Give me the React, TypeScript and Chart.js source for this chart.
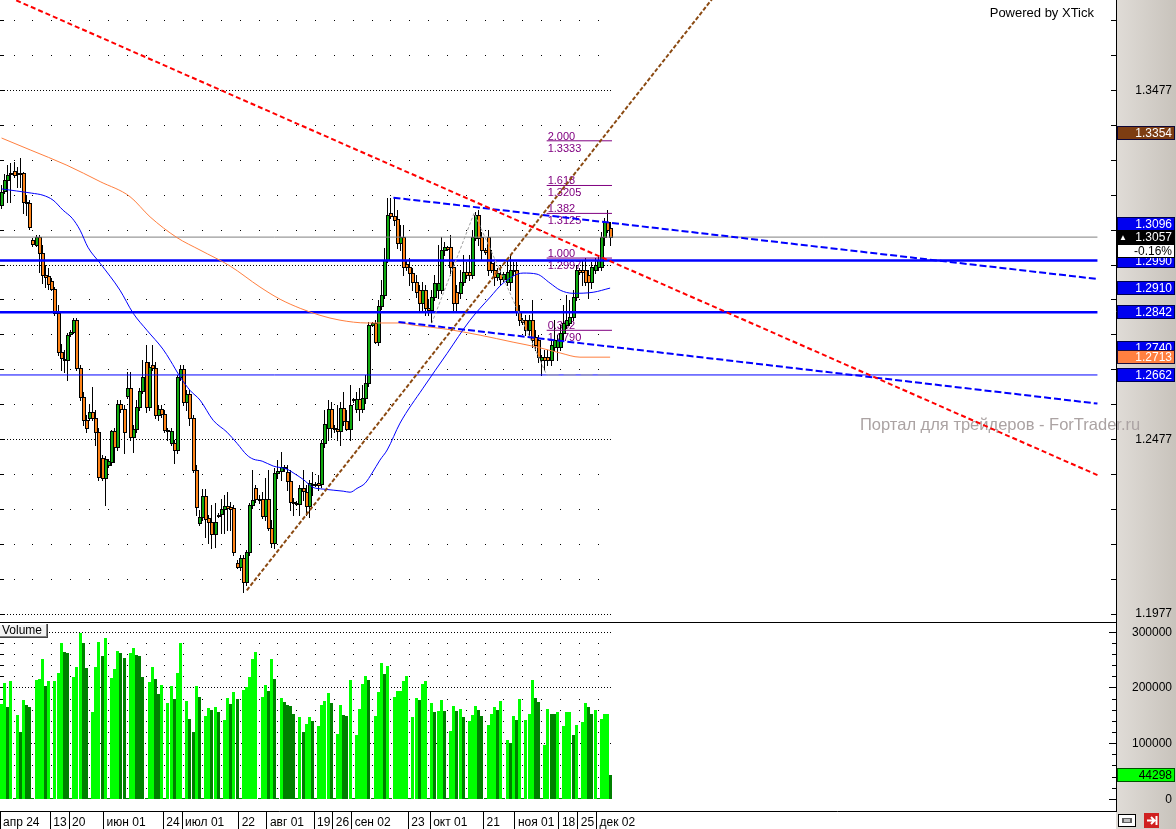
import React, { useEffect, useRef } from 'react';
import { Chart, registerables } from 'chart.js';

Chart.register(...registerables);

const FONT = "'Liberation Sans', Arial, sans-serif";

// ---------- DATA ----------
// daily candles [open, high, low, close], 24 Apr .. 6 Dec (index 0 = апр 24)
const CANDLES: number[][] = [
  [1.3149,1.3206,1.3140,1.3186],[1.3189,1.3238,1.3183,1.3220],[1.3220,1.3264,1.3157,1.3235],[1.3238,1.3269,1.3157,1.3237],
  [1.3246,1.3272,1.3229,1.3235],[1.3238,1.3258,1.3200,1.3237],[1.3238,1.3284,1.3200,1.3240],[1.3240,1.3243,1.3126,1.3157],
  [1.3157,1.3178,1.3120,1.3155],[1.3155,1.3163,1.3080,1.3086],[1.3048,1.3054,1.3031,1.3037],[1.3034,1.3063,1.3031,1.3057],
  [1.3057,1.3063,1.2957,1.3011],[1.3011,1.3034,1.2925,1.2948],[1.2948,1.2977,1.2914,1.2942],[1.2945,1.2968,1.2908,1.2922],
  [1.2931,1.2939,1.2905,1.2908],[1.2908,1.2914,1.2833,1.2839],[1.2839,1.2862,1.2719,1.2727],[1.2727,1.2750,1.2676,1.2710],
  [1.2707,1.2733,1.2670,1.2706],[1.2704,1.2782,1.2647,1.2776],[1.2779,1.2790,1.2773,1.2785],[1.2785,1.2825,1.2782,1.2819],
  [1.2819,1.2825,1.2676,1.2681],[1.2681,1.2690,1.2590,1.2598],[1.2598,1.2613,1.2518,1.2532],[1.2532,1.2547,1.2498,1.2509],
  [1.2538,1.2575,1.2532,1.2555],[1.2555,1.2627,1.2532,1.2538],[1.2538,1.2561,1.2461,1.2498],[1.2498,1.2509,1.2360,1.2369],
  [1.2423,1.2432,1.2360,1.2366],[1.2366,1.2429,1.2289,1.2421],[1.2403,1.2421,1.2398,1.2415],[1.2412,1.2504,1.2403,1.2501],
  [1.2501,1.2509,1.2412,1.2455],[1.2455,1.2590,1.2446,1.2578],[1.2578,1.2590,1.2555,1.2564],[1.2564,1.2575,1.2438,1.2498],
  [1.2601,1.2670,1.2595,1.2624],[1.2624,1.2670,1.2475,1.2484],[1.2484,1.2518,1.2441,1.2507],[1.2507,1.2590,1.2498,1.2570],
  [1.2570,1.2624,1.2561,1.2616],[1.2616,1.2704,1.2610,1.2656],[1.2699,1.2747,1.2555,1.2570],[1.2570,1.2699,1.2561,1.2684],
  [1.2690,1.2747,1.2676,1.2681],[1.2681,1.2699,1.2538,1.2547],[1.2547,1.2575,1.2532,1.2564],[1.2564,1.2575,1.2541,1.2550],
  [1.2550,1.2561,1.2498,1.2504],[1.2504,1.2509,1.2475,1.2501],[1.2466,1.2509,1.2461,1.2501],[1.2466,1.2475,1.2409,1.2446],
  [1.2446,1.2661,1.2438,1.2656],[1.2656,1.2690,1.2647,1.2679],[1.2679,1.2690,1.2575,1.2584],[1.2584,1.2618,1.2561,1.2607],
  [1.2607,1.2618,1.2518,1.2538],[1.2538,1.2547,1.2383,1.2389],[1.2389,1.2403,1.2260,1.2283],[1.2237,1.2274,1.2231,1.2254],
  [1.2254,1.2335,1.2246,1.2315],[1.2315,1.2335,1.2197,1.2249],[1.2251,1.2260,1.2180,1.2240],[1.2240,1.2289,1.2165,1.2206],
  [1.2206,1.2294,1.2168,1.2240],[1.2260,1.2266,1.2254,1.2259],[1.2263,1.2306,1.2208,1.2277],[1.2277,1.2317,1.2208,1.2286],
  [1.2286,1.2326,1.2217,1.2280],[1.2283,1.2297,1.2217,1.2277],[1.2280,1.2289,1.2145,1.2154],[1.2122,1.2131,1.2108,1.2111],
  [1.2111,1.2145,1.2102,1.2137],[1.2137,1.2145,1.2039,1.2068],[1.2068,1.2160,1.2059,1.2154],[1.2154,1.2294,1.2145,1.2289],
  [1.2289,1.2389,1.2280,1.2303],[1.2337,1.2346,1.2297,1.2306],[1.2306,1.2317,1.2294,1.2303],[1.2306,1.2326,1.2251,1.2257],
  [1.2257,1.2366,1.2246,1.2306],[1.2306,1.2389,1.2217,1.2223],[1.2223,1.2246,1.2168,1.2180],[1.2180,1.2395,1.2165,1.2380],
  [1.2380,1.2418,1.2366,1.2386],[1.2386,1.2441,1.2360,1.2398],[1.2395,1.2403,1.2386,1.2394],[1.2383,1.2403,1.2332,1.2357],
  [1.2357,1.2389,1.2274,1.2297],[1.2297,1.2309,1.2260,1.2294],[1.2294,1.2300,1.2289,1.2293],[1.2292,1.2346,1.2260,1.2337],
  [1.2337,1.2389,1.2303,1.2329],[1.2326,1.2346,1.2260,1.2286],[1.2286,1.2360,1.2254,1.2352],[1.2349,1.2383,1.2317,1.2348],
  [1.2349,1.2355,1.2343,1.2348],[1.2352,1.2375,1.2332,1.2346],[1.2349,1.2475,1.2340,1.2466],[1.2466,1.2561,1.2455,1.2521],
  [1.2509,1.2590,1.2475,1.2564],[1.2564,1.2584,1.2484,1.2509],[1.2509,1.2518,1.2498,1.2506],[1.2506,1.2575,1.2475,1.2501],
  [1.2501,1.2584,1.2461,1.2567],[1.2567,1.2613,1.2518,1.2530],[1.2530,1.2561,1.2504,1.2506],[1.2506,1.2633,1.2475,1.2575],
  [1.2590,1.2595,1.2584,1.2589],[1.2564,1.2613,1.2555,1.2593],[1.2593,1.2624,1.2532,1.2564],[1.2564,1.2633,1.2555,1.2595],
  [1.2595,1.2661,1.2581,1.2638],[1.2638,1.2813,1.2630,1.2805],[1.2805,1.2813,1.2802,1.2810],[1.2810,1.2819,1.2753,1.2756],
  [1.2756,1.2876,1.2747,1.2859],[1.2859,1.2934,1.2851,1.2891],[1.2891,1.3026,1.2882,1.2991],[1.2991,1.3169,1.2985,1.3120],
  [1.3126,1.3169,1.3112,1.3117],[1.3117,1.3169,1.3091,1.3106],[1.3109,1.3134,1.3026,1.3040],[1.3040,1.3091,1.3020,1.3057],
  [1.3057,1.3091,1.2948,1.2971],[1.2980,1.2991,1.2962,1.2971],[1.2971,1.2997,1.2919,1.2954],[1.2954,1.2968,1.2905,1.2928],
  [1.2928,1.2948,1.2885,1.2899],[1.2905,1.2919,1.2848,1.2868],[1.2868,1.2928,1.2842,1.2905],[1.2905,1.2919,1.2833,1.2853],
  [1.2853,1.2876,1.2833,1.2848],[1.2848,1.2905,1.2813,1.2885],[1.2885,1.2948,1.2876,1.2925],[1.2905,1.3034,1.2882,1.2925],
  [1.2905,1.3057,1.2896,1.3020],[1.3020,1.3043,1.3005,1.3028],[1.3028,1.3031,1.3020,1.3023],[1.3028,1.3063,1.2948,1.2971],
  [1.2971,1.2985,1.2848,1.2868],[1.2899,1.2919,1.2848,1.2868],[1.2896,1.2962,1.2882,1.2928],[1.2928,1.3005,1.2919,1.2957],
  [1.2957,1.2985,1.2939,1.2948],[1.2957,1.3005,1.2934,1.2948],[1.2948,1.3077,1.2939,1.3057],[1.3054,1.3129,1.3048,1.3120],
  [1.3120,1.3134,1.3034,1.3054],[1.3057,1.3071,1.2991,1.3020],[1.3020,1.3026,1.3008,1.3014],[1.3057,1.3077,1.2948,1.2962],
  [1.2983,1.3020,1.2957,1.2962],[1.2962,1.2985,1.2919,1.2942],[1.2942,1.2968,1.2934,1.2954],[1.2951,1.2977,1.2919,1.2937],
  [1.2937,1.2957,1.2931,1.2951],[1.2928,1.2991,1.2919,1.2957],[1.2928,1.3005,1.2905,1.2962],[1.2960,1.2985,1.2948,1.2962],
  [1.2962,1.2985,1.2833,1.2842],[1.2842,1.2862,1.2805,1.2819],[1.2819,1.2825,1.2808,1.2813],[1.2819,1.2833,1.2776,1.2790],
  [1.2790,1.2833,1.2776,1.2819],[1.2819,1.2876,1.2742,1.2762],[1.2770,1.2790,1.2733,1.2747],[1.2762,1.2776,1.2699,1.2713],
  [1.2704,1.2719,1.2662,1.2713],[1.2713,1.2733,1.2676,1.2704],[1.2713,1.2733,1.2690,1.2704],[1.2704,1.2762,1.2690,1.2747],
  [1.2742,1.2819,1.2733,1.2762],[1.2742,1.2776,1.2704,1.2762],[1.2742,1.2805,1.2733,1.2782],[1.2782,1.2862,1.2762,1.2810],
  [1.2805,1.2891,1.2796,1.2819],[1.2810,1.2876,1.2805,1.2828],[1.2828,1.2905,1.2819,1.2885],[1.2885,1.2977,1.2876,1.2962],
  [1.2962,1.2968,1.2951,1.2957],[1.2962,1.2991,1.2919,1.2957],[1.2962,1.2997,1.2919,1.2928],[1.2948,1.2962,1.2882,1.2928],
  [1.2928,1.2985,1.2911,1.2971],[1.2962,1.2997,1.2954,1.2977],[1.2971,1.3005,1.2962,1.2991],[1.2971,1.3071,1.2962,1.3057],
  [1.3057,1.3112,1.3034,1.3100],[1.3100,1.3134,1.3071,1.3077],[1.3083,1.3100,1.3034,1.3057],
];

const VOLUMES: number[] = [
  172000, 209000, 165000, 212000,
  3000, 151000, 121000, 178000, 169000, 165000,
  3000, 214000, 217000, 252000, 203000, 212000,
  3000, 212000, 227000, 281000, 264000, 263000,
  3000, 220000, 238000, 299000, 281000, 236000,
  3000, 157000, 238000, 283000, 258000, 290000,
  3000, 218000, 234000, 266000, 263000, 254000,
  3000, 262000, 272000, 259000, 258000, 220000,
  3000, 211000, 238000, 217000, 190000, 205000,
  3000, 173000, 203000, 180000, 226000, 281000,
  3000, 176000, 145000, 121000, 203000, 184000,
  3000, 150000, 164000, 160000, 165000, 157000,
  3000, 142000, 182000, 171000, 193000, 180000,
  3000, 196000, 202000, 220000, 252000, 264000,
  3000, 184000, 205000, 194000, 252000, 217000,
  3000, 182000, 175000, 169000, 168000, 153000,
  3000, 147000, 121000, 135000, 147000, 140000,
  3000, 132000, 169000, 176000, 191000, 173000,
  3000, 117000, 169000, 151000, 150000, 214000,
  3000, 115000, 162000, 207000, 222000, 214000,
  3000, 150000, 193000, 245000, 225000, 239000,
  3000, 184000, 195000, 195000, 212000, 222000,
  3000, 147000, 182000, 178000, 207000, 212000,
  3000, 173000, 157000, 159000, 178000, 159000,
  3000, 123000, 168000, 159000, 162000, 148000,
  3000, 141000, 151000, 168000, 160000, 150000,
  3000, 133000, 154000, 165000, 160000, 176000,
  3000, 106000, 102000, 150000, 142000, 181000,
  3000, 142000, 153000, 214000, 182000, 175000,
  3000, 97000, 162000, 154000, 153000, 156000,
  3000, 132000, 157000, 157000, 115000, 133000,
  3000, 139000, 173000, 165000, 153000, 160000,
  3000, 144000, 153000, 154000, 44298,
];

const DATE_TICK_INDEX = [0, 16, 22, 33, 52, 58, 76, 85, 100, 106, 112, 130, 137, 154, 164, 178, 184, 190];
const DATE_TICK_LABELS = ['апр 24', '13', '20', 'июн 01', '24', 'июл 01', '22', 'авг 01', '19', '26', 'сен 02', '23', 'окт 01', '21', 'ноя 01', '18', '25', 'дек 02'];

const PRICE_TICKS = [1.1977, 1.2077, 1.2177, 1.2277, 1.2377, 1.2477, 1.2577, 1.2677, 1.2777, 1.2877, 1.2977, 1.3077, 1.3177, 1.3277, 1.3377, 1.3477, 1.3577, 1.3677];
const PRICE_LABELED = [1.1977, 1.2477, 1.2977, 1.3477];
const VOLUME_TICKS = [0, 20000, 40000, 60000, 80000, 100000, 120000, 140000, 160000, 180000, 200000, 220000, 240000, 260000, 280000, 300000];
const VOLUME_LABELED = [0, 100000, 200000, 300000];

// moving averages: [bar index, value]
const MA_BLUE: number[][] = [
  [0,1.3195],[9.6,1.3183],[13.2,1.3177],[16.4,1.3163],[19.6,1.3134],[22.5,1.3111],[25,1.3077],[27.5,1.3028],
  [31.4,1.2982],[37.7,1.2905],[41.9,1.2839],[46.3,1.2790],[51.4,1.2736],[53.7,1.2704],[56.9,1.2656],[60,1.2618],
  [63.2,1.2590],[67.4,1.2532],[71.8,1.2498],[75,1.2466],[78.2,1.2432],[80.1,1.2421],[83,1.2415],[86.5,1.2401],
  [90.9,1.2392],[93.5,1.2378],[96,1.2363],[99.2,1.2340],[102.4,1.2335],[108.8,1.2329],[111,1.2326],[113.2,1.2337],
  [115.8,1.2352],[118,1.2381],[120.5,1.2418],[122.8,1.2447],[126.9,1.2524],[134.2,1.2624],[141.9,1.2724],[149.2,1.2819],
  [155.6,1.2885],[159.7,1.2925],[166.1,1.2954],[170.5,1.2951],[174.7,1.2925],[177.9,1.2905],[182,1.2896],[188.4,1.2899],[193.8,1.2911],
];
const MA_ORANGE: number[][] = [
  [0,1.3341],[9.1,1.3307],[20.8,1.3263],[31.4,1.3216],[40.9,1.3173],[47.3,1.3115],[55.8,1.3056],[63.2,1.3020],
  [72.8,1.2974],[82.3,1.2914],[88.7,1.2879],[95.1,1.2853],[101.4,1.2833],[107.8,1.2819],[116.4,1.2811],[126.9,1.2811],
  [131.1,1.2805],[141.9,1.2793],[152.4,1.2776],[162.9,1.2756],[170.5,1.2742],[177.9,1.2725],[184.2,1.2713],[193.8,1.2713],
];

// drawn objects: [bar index, price]
const RED_TREND = [[0, 1.3754], [349, 1.2375]];
const BROWN_TREND = [[78.1, 1.2045], [240, 1.3896]];
const UPPER_CHANNEL = [[124.8, 1.3170], [349, 1.2937]];
const LOWER_CHANNEL = [[126.4, 1.2814], [349, 1.2580]];
const ZIGZAG = [[137, 1.2810], [150.5, 1.3126], [173.6, 1.2662]];
const LEVELS_THICK = [1.2990, 1.2842];
const LEVELS_THIN = [1.2662];
const LAST_PRICE = 1.3057;
const LAST_CHANGE = '-0.16%';
const LAST_VOLUME = 44298;

const FIB_RATIOS = ['2.000', '1.618', '1.382', '1.000', '0.382'];
const FIB_PRICES = [1.3333, 1.3205, 1.3125, 1.2997, 1.2790];
const FIB_BASE = 1.2662;
const FIB_SPAN = [173.6, 194.4];

const AXIS_TAG_VALUES = [1.3354, 1.3096, 1.2990, 1.2910, 1.2842, 1.2740, 1.2713, 1.2662];
const AXIS_TAG_COLORS = ['#7d3d12', '#0000f0', '#0000f0', '#0000f0', '#0000f0', '#0000f0', '#ff8040', '#0000f0'];

const WATERMARK = 'Портал для трейдеров - ForTrader.ru';

// ---------- LAYOUT / STYLE ----------
const X_MIN = -0.5;
const X_MAX = 354.91;
const LINES_END = 349;
const LAST_INDEX = CANDLES.length - 1;
const FIRST_WEEK = 4;
const UP = '#10aa10';
const DOWN = '#ff8418';
const VOL_UP = '#00ff00';
const VOL_DOWN = '#008000';

const pts = (arr: number[][]) => arr.map(([x, y]) => ({ x, y }));
const hline = (v: number) => [{ x: X_MIN, y: v }, { x: LINES_END, y: v }];
const near = (list: number[], v: number) => list.some((p) => Math.abs(p - v) < 1e-6);

function lineDs(data: any[], color: string, width: number, dash: number[], order: number, extra: any = {}) {
  return {
    type: 'line', data, borderColor: color, borderWidth: width, borderDash: dash,
    pointRadius: 0, pointHoverRadius: 0, fill: false, tension: 0, order, borderCapStyle: 'butt', ...extra,
  };
}

function paintPanel(ctx: any, x: number, w: number, h: number) {
  const g = ctx.createLinearGradient(x, 0, x + w, 0);
  g.addColorStop(0, '#e0dcd7');
  g.addColorStop(1, '#c8c3bc');
  ctx.fillStyle = g;
  ctx.fillRect(x, 0, w, h);
}

function tag(ctx: any, left: number, right: number, yc: number, bg: string, fg: string, text: string, stroke: string) {
  const top = Math.round(yc - 7);
  ctx.fillStyle = bg;
  ctx.fillRect(left, top, right - left, 14);
  ctx.strokeStyle = stroke;
  ctx.lineWidth = 1;
  ctx.strokeRect(left + 0.5, top + 0.5, right - left - 1, 13);
  ctx.fillStyle = fg;
  ctx.font = `12px ${FONT}`;
  ctx.textAlign = 'right';
  ctx.textBaseline = 'middle';
  ctx.fillText(text, right - 3, top + 7.5);
  return top;
}

const fitY = (s: any) => {
  s.width = 56;
  s.paddingTop = 0;
  s.paddingBottom = 0;
};

// draws the library-positioned bar elements on whole pixels (crisp candles/volume)
const crispBars = {
  id: 'crispBars',
  beforeDatasetDraw(chart: any, args: any) {
    const ds = chart.data.datasets[args.index];
    if (!ds.crisp) return;
    const { ctx, chartArea: a } = chart;
    ctx.save();
    ctx.beginPath();
    ctx.rect(a.left, a.top, a.right - a.left, a.bottom - a.top);
    ctx.clip();
    args.meta.data.forEach((el: any, i: number) => {
      const { x, y, base } = el.getProps(['x', 'y', 'base'], true);
      const top = Math.round(Math.min(y, base));
      const bot = Math.round(Math.max(y, base));
      const h = Math.max(1, bot - top);
      if (ds.crisp === 'wick') {
        ctx.fillStyle = '#000';
        ctx.fillRect(Math.floor(x), top, 1, h + 1);
      } else if (ds.crisp === 'body') {
        const l = Math.floor(x) - 1;
        ctx.fillStyle = '#000';
        ctx.fillRect(l, top, 4, h + 1);
        if (h >= 2) {
          ctx.fillStyle = ds.backgroundColor[i];
          ctx.fillRect(l + 1, top + 1, 2, h - 1);
        }
      } else {
        ctx.fillStyle = ds.backgroundColor[i];
        ctx.fillRect(Math.floor(x) - 1, top, 3, h);
      }
    });
    ctx.restore();
    return false;
  },
};

const priceDecor = {
  id: 'priceDecor',
  beforeDraw(chart: any) {
    const { ctx, chartArea: a, width, height } = chart;
    ctx.save();
    ctx.fillStyle = '#ffffff';
    ctx.fillRect(0, 0, width, height);
    paintPanel(ctx, a.right, width - a.right, height);
    ctx.restore();
  },
  beforeDatasetsDraw(chart: any) {
    const { ctx } = chart;
    const xs = chart.scales.x;
    const ys = chart.scales.y;
    const xEnd = xs.getPixelForValue(LAST_INDEX) + 2;
    ctx.save();
    ctx.fillStyle = '#000';
    PRICE_TICKS.forEach((v) => {
      const py = Math.floor(ys.getPixelForValue(v));
      if (near(PRICE_LABELED, v)) {
        for (let px = 1; px <= xEnd; px += 3) ctx.fillRect(px, py, 1, 1);
      } else {
        for (let s = FIRST_WEEK; s <= LAST_INDEX; s += 6) ctx.fillRect(Math.floor(xs.getPixelForValue(s)), py, 1, 1);
      }
      ctx.fillRect(0, py, 4, 1);
    });
    // fibonacci labels
    ctx.font = `11px ${FONT}`;
    ctx.fillStyle = '#800080';
    ctx.textAlign = 'left';
    ctx.textBaseline = 'alphabetic';
    const fx = xs.getPixelForValue(FIB_SPAN[0]) + 1;
    FIB_PRICES.forEach((p, i) => {
      const py = ys.getPixelForValue(p);
      ctx.fillText(FIB_RATIOS[i], fx, py - 1);
      ctx.fillText(p.toFixed(4), fx, py + 11);
    });
    // watermark + credit
    ctx.font = `16.5px ${FONT}`;
    ctx.fillStyle = '#aba3a3';
    ctx.textBaseline = 'middle';
    ctx.fillText(WATERMARK, 860, 425);
    ctx.font = `13px ${FONT}`;
    ctx.fillStyle = '#000';
    ctx.textAlign = 'right';
    ctx.fillText('Powered by XTick', 1094, 13);
    ctx.restore();
  },
  afterDraw(chart: any) {
    const { ctx, chartArea: a, width } = chart;
    const ys = chart.scales.y;
    ctx.save();
    ctx.fillStyle = '#000';
    PRICE_TICKS.forEach((v) => {
      const py = Math.floor(ys.getPixelForValue(v));
      ctx.fillRect(a.right - 5, py, 5, 1);
    });
    const L = a.right + 1;
    const R = width - 1;
    AXIS_TAG_VALUES.forEach((v, i) => {
      tag(ctx, L, R, ys.getPixelForValue(v), AXIS_TAG_COLORS[i], '#ffffff', v.toFixed(4), 'rgba(0,0,60,0.9)');
    });
    const top = tag(ctx, L, R, ys.getPixelForValue(LAST_PRICE), '#000000', '#ffffff', LAST_PRICE.toFixed(4), '#000');
    ctx.fillStyle = '#fff';
    ctx.font = `8px ${FONT}`;
    ctx.textAlign = 'left';
    ctx.fillText('▲', L + 2, top + 7.5);
    tag(ctx, L, R, top + 21, '#ffffff', '#000000', LAST_CHANGE, '#000');
    ctx.restore();
  },
};

const volumeDecor = {
  id: 'volumeDecor',
  beforeDraw(chart: any) {
    const { ctx, chartArea: a, width, height } = chart;
    ctx.save();
    ctx.fillStyle = '#ffffff';
    ctx.fillRect(0, 0, width, height);
    paintPanel(ctx, a.right, width - a.right, height);
    ctx.restore();
  },
  beforeDatasetsDraw(chart: any) {
    const { ctx } = chart;
    const xs = chart.scales.x;
    const ys = chart.scales.y;
    const xEnd = xs.getPixelForValue(LAST_INDEX) + 2;
    ctx.save();
    ctx.fillStyle = '#000';
    VOLUME_TICKS.forEach((v) => {
      if (v === 0) return;
      const py = Math.floor(ys.getPixelForValue(v));
      if (near(VOLUME_LABELED, v)) {
        for (let px = 1; px <= xEnd; px += 3) ctx.fillRect(px, py, 1, 1);
      } else {
        for (let s = FIRST_WEEK; s <= LAST_INDEX; s += 6) ctx.fillRect(Math.floor(xs.getPixelForValue(s)), py, 1, 1);
      }
      ctx.fillRect(0, py, 4, 1);
    });
    ctx.restore();
  },
  afterDraw(chart: any) {
    const { ctx, chartArea: a, width } = chart;
    const ys = chart.scales.y;
    ctx.save();
    ctx.fillStyle = '#000';
    ctx.fillRect(0, 0, a.right, 1);
    VOLUME_TICKS.forEach((v) => {
      const py = Math.floor(ys.getPixelForValue(v));
      const len = near(VOLUME_LABELED, v) ? 7 : 4;
      ctx.fillRect(a.right - len, py, len, 1);
    });
    tag(ctx, a.right + 1, width - 1, ys.getPixelForValue(LAST_VOLUME), '#00ff00', '#000000', String(LAST_VOLUME), '#005000');
    // "Volume" caption
    ctx.fillStyle = '#f2f2f2';
    ctx.fillRect(0, 2, 47, 13);
    ctx.fillStyle = '#ffffff';
    ctx.fillRect(0, 2, 47, 1);
    ctx.fillStyle = '#808080';
    ctx.fillRect(0, 14, 47, 1);
    ctx.fillRect(46, 2, 1, 13);
    ctx.fillStyle = '#404040';
    ctx.fillRect(0, 15, 48, 1);
    ctx.fillRect(47, 2, 1, 14);
    ctx.fillStyle = '#000';
    ctx.font = `12px ${FONT}`;
    ctx.textAlign = 'left';
    ctx.textBaseline = 'middle';
    ctx.fillText('Volume', 2, 9);
    // small toolbar icons (bottom right)
    const by = a.bottom + 3;
    ctx.fillStyle = '#ffffff';
    ctx.fillRect(a.right + 2, by, 18, 13);
    ctx.strokeStyle = '#000';
    ctx.strokeRect(a.right + 2.5, by + 0.5, 17, 12);
    ctx.fillStyle = '#606060';
    ctx.fillRect(a.right + 6, by + 4, 10, 5);
    ctx.fillStyle = '#c0c0c0';
    ctx.fillRect(a.right + 8, by + 5, 6, 3);
    ctx.fillStyle = '#d02020';
    ctx.fillRect(a.right + 28, by - 1, 15, 15);
    ctx.strokeStyle = '#ffffff';
    ctx.lineWidth = 2;
    ctx.beginPath();
    ctx.moveTo(a.right + 31, by + 6.5);
    ctx.lineTo(a.right + 38, by + 6.5);
    ctx.moveTo(a.right + 35, by + 3);
    ctx.lineTo(a.right + 38.5, by + 6.5);
    ctx.lineTo(a.right + 35, by + 10);
    ctx.moveTo(a.right + 40.5, by + 2);
    ctx.lineTo(a.right + 40.5, by + 11);
    ctx.stroke();
    ctx.restore();
  },
};

function priceConfig(): any {
  const bodyColors = CANDLES.map((c) => (c[3] >= c[0] ? UP : DOWN));
  const datasets: any[] = [
    lineDs(pts(RED_TREND), '#ff0000', 2, [5, 3], 1),
    lineDs(pts(BROWN_TREND), '#8b4a12', 2, [4, 2], 1),
    lineDs(pts(UPPER_CHANNEL), '#0000ff', 2, [7, 3], 2),
    lineDs(pts(LOWER_CHANNEL), '#0000ff', 2, [7, 3], 2),
    ...FIB_PRICES.map((p) => lineDs([{ x: FIB_SPAN[0], y: p }, { x: FIB_SPAN[1], y: p }], '#800080', 1, [], 3)),
    lineDs([{ x: FIB_SPAN[0], y: FIB_BASE }, { x: FIB_SPAN[1], y: FIB_BASE }], '#a8a8a8', 1, [12, 5], 3),
    lineDs(pts(ZIGZAG), '#a0a0a0', 1, [3, 2], 4),
    lineDs(pts(MA_BLUE), '#0000ff', 1, [], 5, { cubicInterpolationMode: 'monotone' }),
    lineDs(pts(MA_ORANGE), '#ff7f3f', 1, [], 5, { cubicInterpolationMode: 'monotone' }),
    lineDs(hline(LAST_PRICE), '#808080', 1, [], 6),
    ...LEVELS_THICK.map((v) => lineDs(hline(v), '#0000ff', 2.5, [], 6)),
    ...LEVELS_THIN.map((v) => lineDs(hline(v), '#0000ff', 1, [], 6)),
    {
      type: 'bar', order: 20, grouped: false, barThickness: 1, inflateAmount: 0, crisp: 'wick',
      data: CANDLES.map((c, i) => ({ x: i, y: [c[2], c[1]] })),
      backgroundColor: '#000', borderWidth: 0,
    },
    {
      type: 'bar', order: 19, grouped: false, barThickness: 4, inflateAmount: 0, minBarLength: 1, crisp: 'body',
      data: CANDLES.map((c, i) => ({ x: i, y: [c[0], c[3]] })),
      backgroundColor: bodyColors, borderColor: '#000', borderWidth: 1, borderSkipped: false,
    },
  ];
  return {
    type: 'bar',
    data: { datasets },
    plugins: [priceDecor, crispBars],
    options: {
      animation: false, responsive: false, devicePixelRatio: 1, events: [],
      layout: { padding: { left: 0, top: 0, bottom: 0, right: 4 }, autoPadding: false },
      plugins: { legend: { display: false }, tooltip: { enabled: false } },
      scales: {
        x: { type: 'linear', min: X_MIN, max: X_MAX, offset: false, display: false, grid: { display: false } },
        y: {
          type: 'linear', position: 'right', min: 1.19541, max: 1.37365, beginAtZero: false,
          afterBuildTicks: (s: any) => { s.ticks = PRICE_TICKS.map((v) => ({ value: v })); },
          afterFit: fitY,
          grid: { display: false },
          border: { display: true, color: '#000', width: 1 },
          ticks: {
            autoSkip: false, crossAlign: 'far', padding: 0, color: '#000',
            font: { family: FONT, size: 12 },
            callback: (v: any) => (near(PRICE_LABELED, Number(v)) ? Number(v).toFixed(4) : ''),
          },
        },
      },
    },
  };
}

function volumeConfig(): any {
  const colors = VOLUMES.map((v, i) => (i > 0 && v < VOLUMES[i - 1] ? VOL_DOWN : VOL_UP));
  return {
    type: 'bar',
    data: {
      datasets: [{
        type: 'bar', grouped: false, barThickness: 3, inflateAmount: 0, crisp: 'volume',
        data: VOLUMES.map((v, i) => ({ x: i, y: v })),
        backgroundColor: colors, borderWidth: 0,
      }],
    },
    plugins: [volumeDecor, crispBars],
    options: {
      animation: false, responsive: false, devicePixelRatio: 1, events: [],
      layout: { padding: { left: 0, top: 0, bottom: 0, right: 4 }, autoPadding: false },
      plugins: { legend: { display: false }, tooltip: { enabled: false } },
      scales: {
        x: {
          type: 'linear', min: X_MIN, max: X_MAX, offset: false, position: 'bottom',
          afterBuildTicks: (s: any) => { s.ticks = DATE_TICK_INDEX.map((i) => ({ value: i - 0.5 })); },
          afterFit: (s: any) => { s.height = 18; s.paddingLeft = 0; s.paddingRight = 0; },
          grid: { display: true, drawOnChartArea: false, drawTicks: true, tickLength: 18, color: '#000', offset: false },
          border: { display: true, color: '#000', width: 1 },
          ticks: {
            autoSkip: false, maxRotation: 0, minRotation: 0, align: 'start', labelOffset: 3, padding: -14,
            color: '#000', font: { family: FONT, size: 12 },
            callback: (_v: any, i: number) => DATE_TICK_LABELS[i],
          },
        },
        y: {
          type: 'linear', position: 'right', min: -21000, max: 318500, beginAtZero: false,
          afterBuildTicks: (s: any) => { s.ticks = VOLUME_TICKS.map((v) => ({ value: v })); },
          afterFit: fitY,
          grid: { display: false },
          border: { display: true, color: '#000', width: 1 },
          ticks: {
            autoSkip: false, crossAlign: 'far', padding: 0, color: '#000',
            font: { family: FONT, size: 12 },
            callback: (v: any) => (near(VOLUME_LABELED, Number(v)) ? String(v) : ''),
          },
        },
      },
    },
  };
}

export default function App() {
  const priceRef = useRef<HTMLCanvasElement>(null);
  const volRef = useRef<HTMLCanvasElement>(null);
  useEffect(() => {
    const pc = new Chart(priceRef.current as any, priceConfig());
    const vc = new Chart(volRef.current as any, volumeConfig());
    return () => {
      pc.destroy();
      vc.destroy();
    };
  }, []);
  return (
    <div style={{ position: 'fixed', left: 0, top: 0, width: 1176, height: 829, background: '#fff' }}>
      <canvas ref={priceRef} width={1176} height={622} style={{ display: 'block', width: 1176, height: 622 }} />
      <canvas ref={volRef} width={1176} height={207} style={{ display: 'block', width: 1176, height: 207 }} />
    </div>
  );
}
